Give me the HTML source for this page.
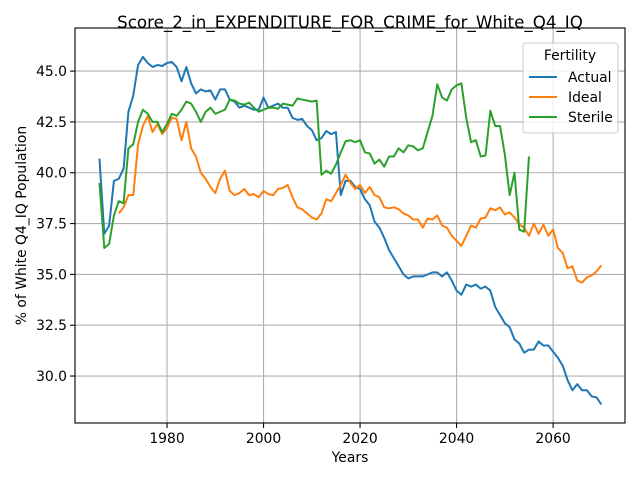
<!DOCTYPE html>
<html><head><meta charset="utf-8"><style>
body{margin:0;background:#fff;}
svg{display:block;font-family:"DejaVu Sans","Liberation Sans",sans-serif;}
</style></head><body>
<svg id="chart" width="640" height="480"></svg>
<script>
const actualStart = 1966;
const actualValues = [40.7,37.0,37.4,39.6,39.7,40.2,43.0,43.8,45.3,45.7,45.4,45.2,45.3,45.25,45.4,45.45,45.2,44.5,45.2,44.4,43.9,44.1,44.0,44.05,43.6,44.1,44.1,43.6,43.5,43.2,43.3,43.2,43.1,43.1,43.7,43.2,43.3,43.4,43.2,43.2,42.7,42.6,42.65,42.3,42.1,41.6,41.7,42.05,41.9,42.0,38.9,39.6,39.6,39.3,39.2,38.7,38.4,37.6,37.3,36.8,36.2,35.8,35.4,35.0,34.8,34.9,34.9,34.9,35.0,35.1,35.1,34.9,35.1,34.7,34.2,34.0,34.5,34.4,34.5,34.3,34.4,34.2,33.4,33.0,32.6,32.4,31.8,31.6,31.15,31.3,31.3,31.7,31.5,31.5,31.2,30.9,30.5,29.8,29.3,29.6,29.3,29.3,29.0,28.95,28.6];
const idealStart = 1970;
const idealValues = [38.0,38.3,38.9,38.9,41.4,42.3,42.8,42.0,42.4,41.9,42.2,42.7,42.65,41.6,42.5,41.2,40.8,40.0,39.7,39.3,39.0,39.7,40.1,39.1,38.9,39.0,39.2,38.9,38.95,38.8,39.1,38.95,38.9,39.2,39.25,39.4,38.8,38.3,38.2,38.0,37.8,37.7,38.0,38.7,38.6,39.0,39.4,39.9,39.5,39.2,39.4,39.0,39.3,38.9,38.8,38.3,38.25,38.3,38.2,38.0,37.9,37.7,37.7,37.3,37.75,37.7,37.9,37.4,37.3,36.9,36.65,36.4,36.9,37.4,37.3,37.75,37.8,38.25,38.15,38.3,37.95,38.05,37.8,37.45,37.3,36.9,37.5,37.0,37.45,36.9,37.2,36.3,36.05,35.3,35.4,34.7,34.6,34.85,34.95,35.15,35.45];
const sterileStart = 1966;
const sterileValues = [39.5,36.3,36.5,37.9,38.6,38.5,41.2,41.4,42.5,43.1,42.9,42.5,42.5,42.0,42.4,42.9,42.8,43.1,43.5,43.4,43.0,42.5,43.0,43.2,42.9,43.0,43.1,43.6,43.55,43.4,43.35,43.45,43.2,43.0,43.1,43.2,43.2,43.15,43.4,43.35,43.3,43.65,43.6,43.55,43.5,43.55,39.9,40.1,39.95,40.4,41.0,41.55,41.6,41.5,41.6,41.0,40.95,40.45,40.65,40.3,40.8,40.8,41.2,41.0,41.35,41.3,41.1,41.2,42.0,42.8,44.35,43.7,43.55,44.1,44.3,44.4,42.7,41.5,41.6,40.8,40.85,43.05,42.3,42.3,40.9,38.9,40.0,37.2,37.1,40.8];
const xTicks = [1980,2000,2020,2040,2060];
const yTicks = [30.0,32.5,35.0,37.5,40.0,42.5,45.0];
const seriesNames = ["Actual","Ideal","Sterile"];

const L=75,R=625,T=28,B=423;
const X0=1960.93,X1=2074.9,Y0=27.69,Y1=47.12;
const sx=v=>L+(v-X0)/(X1-X0)*(R-L);
const sy=v=>B-(v-Y0)/(Y1-Y0)*(B-T);
const svg=document.getElementById('chart');
const NS='http://www.w3.org/2000/svg';
function mk(tag,attrs,parent){const e=document.createElementNS(NS,tag);for(const k in attrs)e.setAttribute(k,attrs[k]);(parent||svg).appendChild(e);return e;}
const FS=13.9;

const grid=mk('g',{});


xTicks.forEach(t=>{
  const g=mk('line',{x1:sx(t),x2:sx(t),y1:T,y2:B,stroke:'#b0b0b0','stroke-width':1.1},grid);
  
  
  mk('line',{x1:sx(t),x2:sx(t),y1:B,y2:B+4.9,stroke:'#000','stroke-width':1.1});
  const tx=mk('text',{x:sx(t),y:B+20,'font-size':FS,'text-anchor':'middle'});
  tx.textContent=t;
  
  
});
yTicks.forEach(t=>{
  const g=mk('line',{x1:L,x2:R,y1:sy(t),y2:sy(t),stroke:'#b0b0b0','stroke-width':1.1},grid);
  
  
  mk('line',{x1:L-4.9,x2:L,y1:sy(t),y2:sy(t),stroke:'#000','stroke-width':1.1});
  const tx=mk('text',{x:L-8,y:sy(t)+5,'font-size':FS,'text-anchor':'end'});
  tx.textContent=t.toFixed(1);
  
  
});

const colors=['#1f77b4','#ff7f0e','#2ca02c'];
[[actualStart,actualValues],[idealStart,idealValues],[sterileStart,sterileValues]].forEach((s,i)=>{
  const pts=s[1].map((v,j)=>sx(s[0]+j).toFixed(2)+','+sy(v).toFixed(2)).join(' ');
  const p=mk('polyline',{points:pts,fill:'none',stroke:colors[i],'stroke-width':2,'stroke-linejoin':'round'});
  
  
});

const frame=mk('rect',{x:L,y:T,width:R-L,height:B-T,fill:'none',stroke:'#000','stroke-width':1.1});



const title=mk('text',{x:(L+R)/2,y:28,'font-size':16.7,'text-anchor':'middle'});
title.textContent='Score_2_in_EXPENDITURE_FOR_CRIME_for_White_Q4_IQ';


const xl=mk('text',{x:(L+R)/2,y:462,'font-size':FS,'text-anchor':'middle'});
xl.textContent='Years';


const yl=mk('text',{x:0,y:0,'font-size':FS,'text-anchor':'middle',transform:`translate(26,${(T+B)/2}) rotate(-90)`});
yl.textContent='% of White Q4_IQ Population';



const lg=mk('g',{});


mk('rect',{x:523,y:43,width:95,height:90,rx:3,fill:'#fff','fill-opacity':0.8,stroke:'#ccc','stroke-width':1.1},lg);
const lt=mk('text',{x:570,y:60,'font-size':FS,'text-anchor':'middle'},lg);
lt.textContent='Fertility';


seriesNames.forEach((n,i)=>{
  const y=77+i*20;
  const e=mk('g',{},lg);
  
  
  mk('line',{x1:529,x2:557,y1:y,y2:y,stroke:colors[i],'stroke-width':2},e);
  const t=mk('text',{x:568,y:y+5,'font-size':FS},e);
  t.textContent=n;
});
</script>
</body></html>
